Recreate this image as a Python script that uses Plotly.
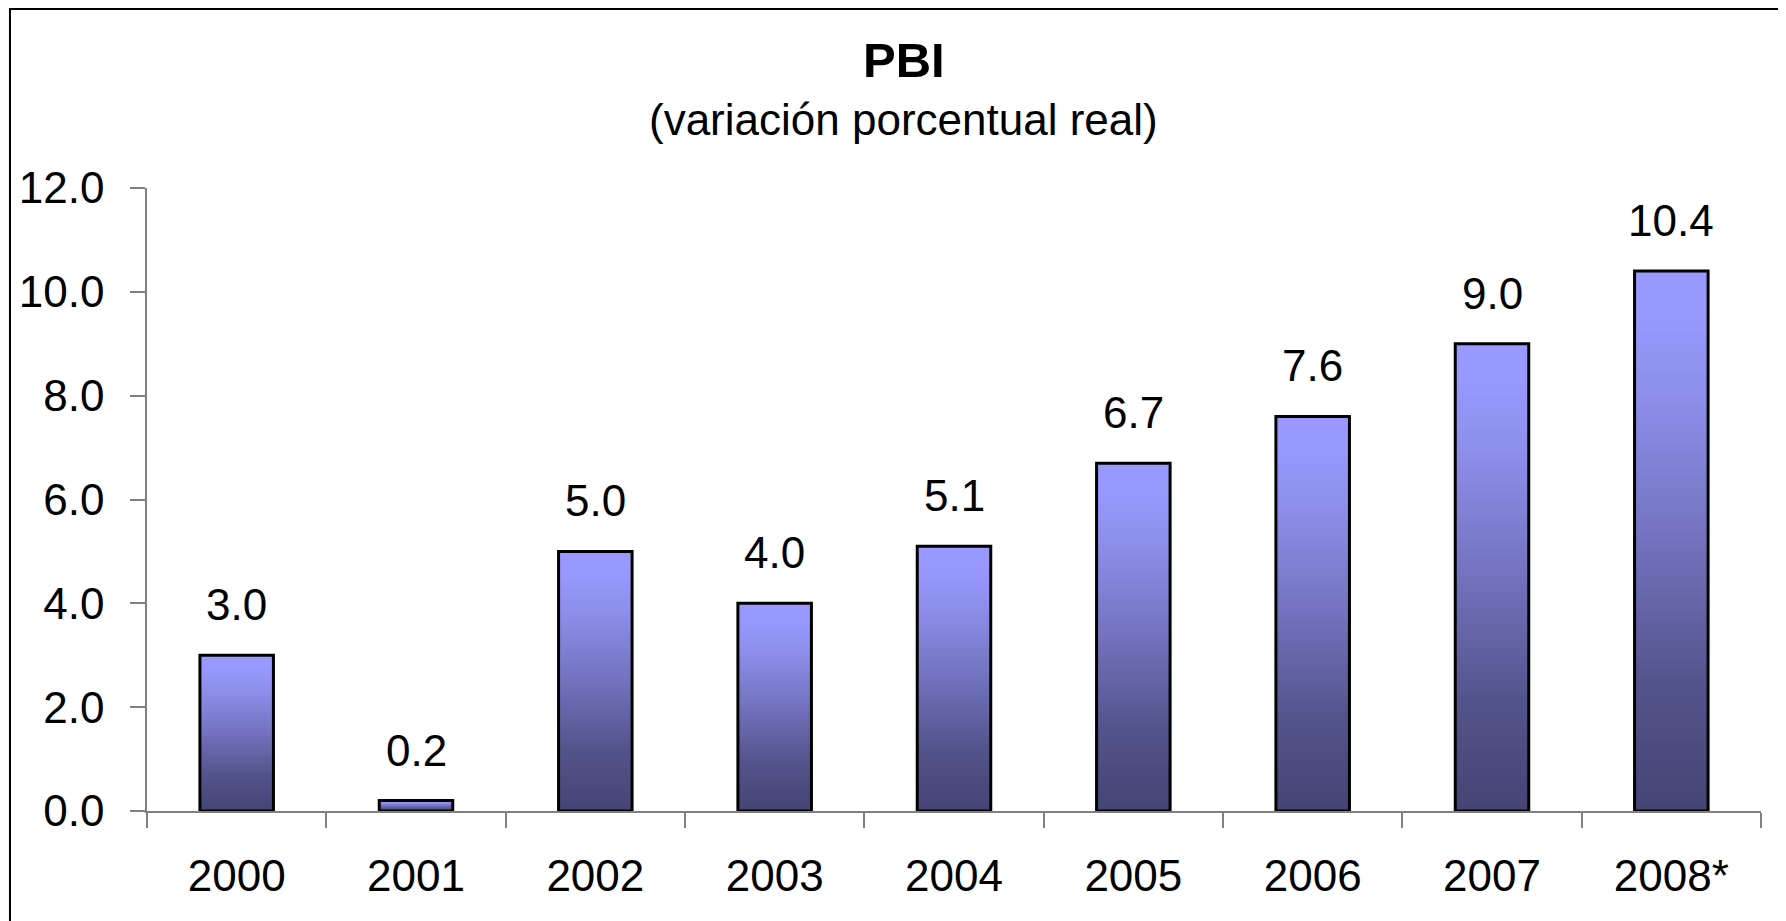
import plotly.graph_objects as go

years = ["2000", "2001", "2002", "2003", "2004", "2005", "2006", "2007", "2008*"]
pbi = [3.0, 0.2, 5.0, 4.0, 5.1, 6.7, 7.6, 9.0, 10.4]
labels = ["3.0", "0.2", "5.0", "4.0", "5.1", "6.7", "7.6", "9.0", "10.4"]

title = "<b>PBI</b>"
subtitle = "(variación porcentual real)"

FONT = "Liberation Sans, Arial, sans-serif"
FS = 44

# gradient stops, 0 = bottom of bar, 1 = top
stops = [(0.0, (0x44, 0x44, 0x74)), (0.25, (0x55, 0x55, 0x8e)),
         (0.5, (0x72, 0x72, 0xbe)), (0.75, (0x8c, 0x8c, 0xe8)),
         (0.9, (0x97, 0x97, 0xfc)), (1.0, (0x99, 0x99, 0xff))]


def grad(t):
    for (t0, c0), (t1, c1) in zip(stops, stops[1:]):
        if t <= t1:
            f = (t - t0) / (t1 - t0)
            c = [round(a + (b - a) * f) for a, b in zip(c0, c1)]
            return "rgb(%d,%d,%d)" % tuple(c)
    return "rgb(153,153,255)"


n = 60
bar_w = 0.41
fig = go.Figure()

# fake the vertical gradient: each slice runs from its base up to the top,
# later slices cover the earlier ones (no seams between slices)
for k in range(n):
    fig.add_trace(go.Bar(
        x=years,
        y=[v * (n - k) / n for v in pbi],
        base=[v * k / n for v in pbi],
        width=bar_w,
        marker=dict(color=grad((k + 0.5) / n), line=dict(width=0)),
        hoverinfo="skip",
        showlegend=False,
    ))

# outline on top
fig.add_trace(go.Bar(
    x=years, y=pbi, width=bar_w,
    marker=dict(color="rgba(0,0,0,0)", line=dict(color="black", width=3)),
    showlegend=False,
))

# value labels (x by category index, so "2000" isn't read as index 2000)
for i, (v, lab) in enumerate(zip(pbi, labels)):
    fig.add_annotation(x=i, y=v, text=lab, showarrow=False,
                       yanchor="bottom", yshift=24,
                       font=dict(size=FS, color="black", family=FONT))

fig.add_annotation(xref="paper", yref="paper", x=0.469, y=1.205,
                   text=title, showarrow=False, yanchor="middle",
                   font=dict(size=49, color="black", family=FONT))
fig.add_annotation(xref="paper", yref="paper", x=0.469, y=1.110,
                   text=subtitle, showarrow=False, yanchor="middle",
                   font=dict(size=FS, color="black", family=FONT))

# frame (only left and top edges visible in the original)
fig.add_shape(type="rect", xref="paper", yref="paper",
              x0=-0.0849, x1=1.1, y0=-0.4, y1=1.2873,
              line=dict(color="black", width=2))

fig.update_layout(
    barmode="overlay",
    width=1786, height=921,
    margin=dict(l=139, r=33, t=180, b=118, autoexpand=False),
    paper_bgcolor="white", plot_bgcolor="white",
    font=dict(family=FONT, size=FS, color="black"),
)
fig.update_xaxes(
    type="category", showline=True, linecolor="#808080", linewidth=1.5,
    ticks="outside", tickson="boundaries", ticklen=15, tickcolor="#808080",
    tickwidth=1.5, showgrid=False, ticklabelstandoff=25, tickangle=0,
    tickfont=dict(size=FS, family=FONT),
)
fig.update_yaxes(
    range=[0, 12], dtick=2, tickformat=".1f", showline=True,
    linecolor="#808080", linewidth=1.5, ticks="outside", ticklen=15,
    tickcolor="#808080", tickwidth=1.5, showgrid=False, zeroline=False,
    ticklabelstandoff=17, tickfont=dict(size=FS, family=FONT),
)

fig.write_html("out.html")
